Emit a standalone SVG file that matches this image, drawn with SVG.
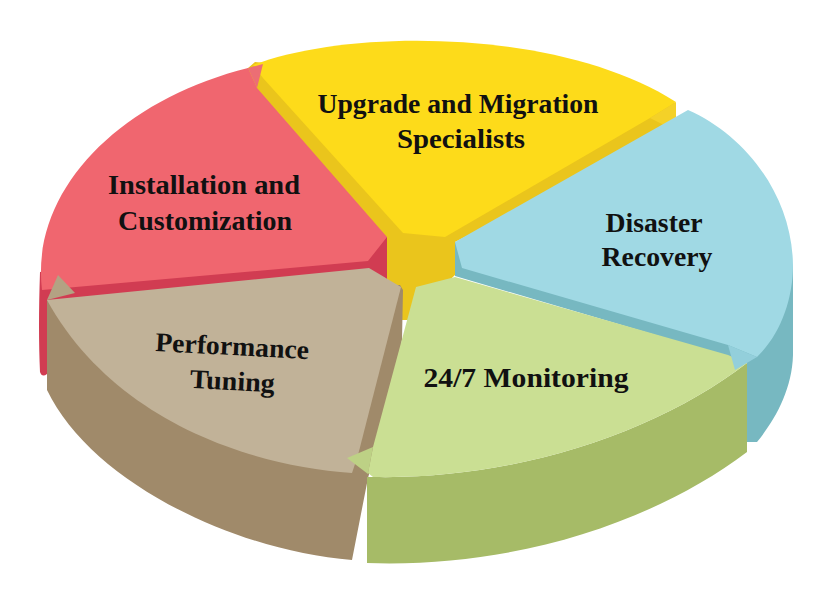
<svg xmlns="http://www.w3.org/2000/svg" width="832" height="608" viewBox="0 0 832 608">
<style>
text{font-family:"Liberation Serif","DejaVu Serif",serif;font-weight:bold;font-size:27px;fill:#111;text-anchor:middle}
</style>
<rect width="832" height="608" fill="#fff"/>
<g id="upgrade">
<path d="M240,75 L380,245 L387,320 L408,320 L455,275 L455,242 L676,131 L676,103 L255,62 Z" fill="#EAC51C"/>
<path d="M253,65 C350,28 560,28 676,102 L650,118 L445,237 L403,233 L263,78 Z" fill="#FDDB1A"/>
<path d="M650,118 L676,102 L676,131 Z" fill="#F4D128"/>
</g>
<g id="installation">
<path d="M40,272 L387,237 L387,300 L47,322 L47,374 Q42,378 40,372 Q38,330 40,272 Z" fill="#D13C52"/>
<path d="M248,68 L257,88 L387,237 L368,261 L42,290 C30,190 120,100 248,68 Z" fill="#F0666F"/>
<path d="M248,68 L263,64 L257,88 Z" fill="#EC6E74"/>
</g>
<g id="disaster">
<path d="M455,242 L455,276 L747,362 L747,442 L757,442 C775,420 792,390 793,355 L793,265 Z" fill="#77B8C1"/>
<path d="M455,242 L688,110 C745,135 792,195 793,265 C793,300 780,335 757,357 L728,345 L462,268 Z" fill="#A0D9E4"/>
</g>
<g id="performance">
<path d="M47,300 L47,390 C90,480 230,550 352,560 L368,478 L395,380 L402,340 L403,290 L400,285 Z" fill="#A08A6A"/>
<path d="M47,300 L369,268 L401,287 L358,455 L352,473 C240,465 110,415 47,300 Z" fill="#C1B298"/>
<path d="M47,300 L58,275 L75,293 Z" fill="#B3A283"/>
</g>
<g id="monitoring">
<path d="M373,477 C520,480 660,430 747,363 L747,452 C650,525 510,568 367,563 L367,477 Z" fill="#A6BB67"/>
<path d="M416,287 L455,277 L728,355 L747,363 C660,430 520,480 373,477 L368,473 L373,447 Z" fill="#CADF93"/>
<path d="M347,458 L373,447 L368,474 Z" fill="#BDD185"/>
<path d="M728,345 L757,357 L735,370 Z" fill="#93CFDB"/>
</g>
<g id="labels">
<text x="458" y="113" textLength="281" lengthAdjust="spacingAndGlyphs">Upgrade and Migration</text>
<text x="461" y="148" textLength="128" lengthAdjust="spacingAndGlyphs">Specialists</text>
<text x="204" y="194" textLength="192" lengthAdjust="spacingAndGlyphs">Installation and</text>
<text x="205" y="230" textLength="174" lengthAdjust="spacingAndGlyphs">Customization</text>
<text x="654" y="232" textLength="97" lengthAdjust="spacingAndGlyphs">Disaster</text>
<text x="657" y="266" textLength="111" lengthAdjust="spacingAndGlyphs">Recovery</text>
<g transform="rotate(3 231 370)">
<text x="231" y="355" textLength="154" lengthAdjust="spacingAndGlyphs">Performance</text>
<text x="233" y="390" textLength="85" lengthAdjust="spacingAndGlyphs">Tuning</text>
</g>
<text x="526" y="387" textLength="205" lengthAdjust="spacingAndGlyphs">24/7 Monitoring</text>
</g>
</svg>
